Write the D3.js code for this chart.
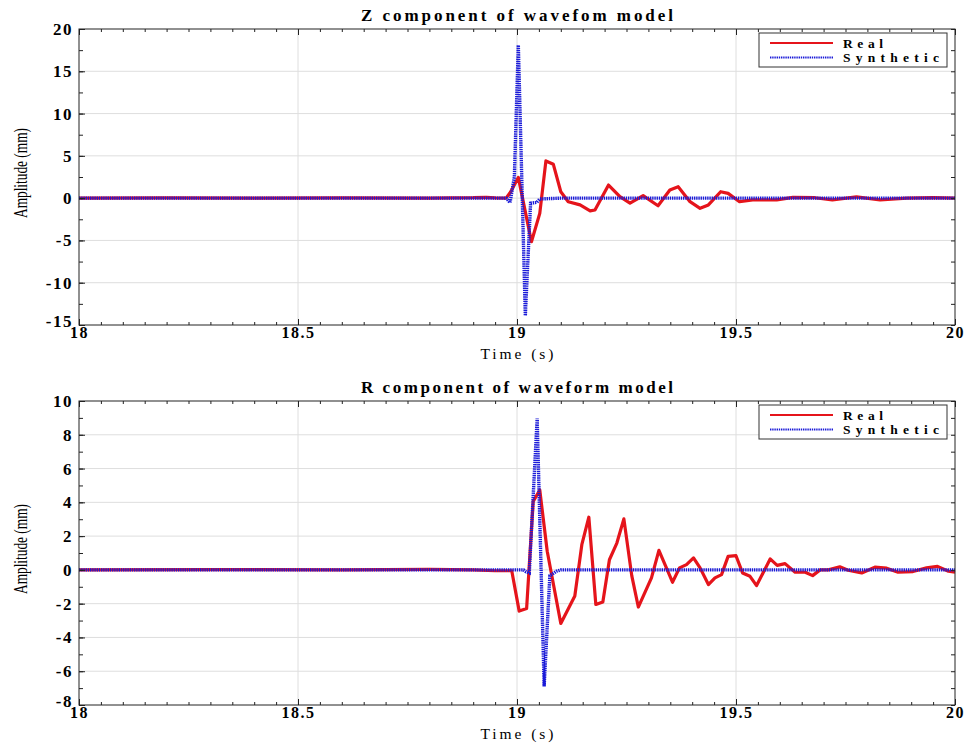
<!DOCTYPE html>
<html><head><meta charset="utf-8">
<script src="https://cdn.jsdelivr.net/npm/d3@7"></script>
<style>
body{margin:0;background:#fff;}
svg{display:block;}
svg text{font-family:"Liberation Serif","Times New Roman","DejaVu Serif",serif;}
</style></head>
<body>
<svg id="chart" width="968" height="743"></svg>
<script>
// ---------- DATA ----------
const zRealTime = [18.00,18.20,18.40,18.60,18.80,18.90,18.93,18.95,18.975,18.985,19.003,19.033,19.052,19.066,19.083,19.100,19.117,19.144,19.167,19.178,19.209,19.235,19.258,19.288,19.322,19.349,19.368,19.395,19.418,19.437,19.465,19.482,19.508,19.538,19.593,19.630,19.680,19.720,19.775,19.829,19.890,19.950,20.000];
const zRealAmp  = [0,0.02,0,0.03,0,0.05,0.1,0.03,0.0,0.7,2.45,-5.15,-1.8,4.4,4.0,0.76,-0.42,-0.8,-1.5,-1.4,1.55,0.17,-0.6,0.3,-0.9,0.96,1.35,-0.42,-1.2,-0.8,0.76,0.56,-0.42,-0.2,-0.2,0.1,0.05,-0.2,0.15,-0.2,0.0,0.05,0];
const zSynTime  = [18.00,18.970,18.976,18.984,18.994,19.003,19.019,19.031,19.045,19.052,19.100,20.000];
const zSynAmp   = [0,0,0,-0.54,2.5,18.1,-13.9,-0.6,-0.5,-0.1,0,0];

const rRealTime = [18.00,18.30,18.60,18.80,18.90,18.95,18.988,19.005,19.022,19.037,19.052,19.069,19.100,19.132,19.148,19.164,19.180,19.196,19.211,19.228,19.244,19.262,19.277,19.307,19.324,19.355,19.371,19.387,19.403,19.418,19.437,19.452,19.467,19.482,19.500,19.515,19.532,19.547,19.578,19.594,19.612,19.635,19.658,19.675,19.692,19.711,19.737,19.756,19.787,19.817,19.844,19.870,19.904,19.935,19.960,19.985,20.000];
const rRealAmp  = [0,0.02,0,0.03,0,-0.05,-0.05,-2.44,-2.28,4.05,4.73,1.1,-3.17,-1.55,1.49,3.12,-2.05,-1.9,0.6,1.59,3.02,-0.34,-2.2,-0.47,1.16,-0.73,0.12,0.31,0.71,0.12,-0.87,-0.47,-0.28,0.8,0.84,-0.18,-0.38,-0.93,0.65,0.27,0.37,-0.14,-0.14,-0.34,0,0,0.18,-0.02,-0.18,0.16,0.1,-0.14,-0.1,0.12,0.21,-0.08,-0.14];
const rSynTime  = [18.00,19.015,19.020,19.028,19.046,19.062,19.075,19.090,19.100,20.000];
const rSynAmp   = [0,0,-0.1,-0.18,8.96,-6.9,-0.34,-0.08,0,0];

const xMajorTicks = [18,18.5,19,19.5,20];
const zYTicks = [-15,-10,-5,0,5,10,15,20];
const rYTicks = [-8,-6,-4,-2,0,2,4,6,8,10];
const legendLabels = ["Real","Synthetic"];
const titles = ["Z component of wavefom model","R component of waveform model"];

// ---------- DRAW ----------
const svg = d3.select("#chart");
const SERIF = '"Liberation Serif","Times New Roman","DejaVu Serif",serif';
const RED = "#e5141b", BLUE = "#1a1ad8";

function panel(cfg){
  const {top, bottom, left, right, yDomain, yMajor, yMinorStep, realT, realA, synT, synA, title} = cfg;
  const x = d3.scaleLinear().domain([18,20]).range([left,right]);
  const y = d3.scaleLinear().domain(yDomain).range([bottom,top]);
  const g = svg.append("g");

  const xMinor = d3.range(0,41).map(i=>18+i*0.05);
  const yMinor = d3.range(Math.round((yDomain[1]-yDomain[0])/yMinorStep)+1).map(i=>yDomain[0]+i*yMinorStep);

  // grid
  g.append("g").selectAll("line").data(yMajor.filter(v=>v>yDomain[0]&&v<yDomain[1]))
    .join("line").attr("x1",left).attr("x2",right).attr("y1",d=>y(d)).attr("y2",d=>y(d))
    .attr("stroke","#dedede").attr("stroke-width",1);
  g.append("g").selectAll("line").data([18.5,19,19.5])
    .join("line").attr("y1",top).attr("y2",bottom).attr("x1",d=>x(d)).attr("x2",d=>x(d))
    .attr("stroke","#dedede").attr("stroke-width",1);

  // lines
  const line = d3.line().x(d=>x(d[0])).y(d=>y(d[1]));
  g.append("path").datum(realT.map((t,i)=>[t,realA[i]]))
    .attr("d",line).attr("fill","none").attr("stroke",RED).attr("stroke-width",3.2)
    .attr("stroke-linejoin","round");
  g.append("path").datum(synT.map((t,i)=>[t,synA[i]]))
    .attr("d",line).attr("fill","none").attr("stroke",BLUE).attr("stroke-width",3.4)
    .attr("stroke-dasharray","1.4,0.8");

  // axes (inward ticks)
  const axStyle = s => s.call(a=>a.select(".domain").remove())
      .call(a=>a.selectAll("line").attr("stroke","#222"));
  g.append("g").attr("transform",`translate(0,${bottom})`)
    .call(d3.axisBottom(x).tickValues(xMinor).tickSize(-3).tickFormat("")).call(axStyle);
  g.append("g").attr("transform",`translate(0,${top})`)
    .call(d3.axisTop(x).tickValues(xMinor).tickSize(-3).tickFormat("")).call(axStyle);
  const xb = g.append("g").attr("transform",`translate(0,${bottom})`)
    .call(d3.axisBottom(x).tickValues(xMajorTicks).tickSize(-6).tickPadding(2).tickFormat(d=>String(d))).call(axStyle);
  g.append("g").attr("transform",`translate(0,${top})`)
    .call(d3.axisTop(x).tickValues(xMajorTicks).tickSize(-6).tickFormat("")).call(axStyle);
  g.append("g").attr("transform",`translate(${left},0)`)
    .call(d3.axisLeft(y).tickValues(yMinor).tickSize(-4).tickFormat("")).call(axStyle);
  g.append("g").attr("transform",`translate(${right},0)`)
    .call(d3.axisRight(y).tickValues(yMinor).tickSize(-4).tickFormat("")).call(axStyle);
  const yl = g.append("g").attr("transform",`translate(${left},0)`)
    .call(d3.axisLeft(y).tickValues(yMajor).tickSize(-6).tickPadding(6).tickFormat(d=>String(d))).call(axStyle);
  [xb,yl].forEach(a=>{
    a.attr("font-family",null);
    a.selectAll("text").style("font-family",SERIF).attr("font-weight","bold")
      .attr("fill","#000").attr("letter-spacing","1.5px");
  });
  yl.selectAll("text").attr("font-size",17);
  xb.selectAll("text").attr("font-size",16);
  // lift the lowest y label a little so it clears the first x label
  yl.selectAll(".tick").filter(d=>d===yDomain[0]).select("text").attr("dy","0.1em");

  // frame
  g.append("rect").attr("x",left).attr("y",top).attr("width",right-left).attr("height",bottom-top)
    .attr("fill","none").attr("stroke","#222").attr("stroke-width",1);

  // title
  g.append("text").attr("x",(left+right)/2).attr("y",top-8).attr("text-anchor","middle")
    .style("font-family",SERIF).attr("font-weight","bold").attr("font-size",17)
    .attr("textLength",312).attr("lengthAdjust","spacing").text(title);
  // x label
  g.append("text").attr("x",x(19)).attr("y",bottom+34).attr("text-anchor","middle")
    .style("font-family",SERIF).attr("font-size",15.5)
    .attr("textLength",73).attr("lengthAdjust","spacing").text("Time (s)");
  // y label
  g.append("text").attr("transform",`translate(27,${(top+bottom)/2-4}) rotate(-90)`)
    .attr("text-anchor","middle").style("font-family",SERIF).attr("font-size",18)
    .attr("textLength",90).attr("lengthAdjust","spacingAndGlyphs").text("Amplitude (mm)");

  // legend
  const lx = 759, ly = top+4, lw = 188, lh = 34;
  const lg = g.append("g");
  lg.append("rect").attr("x",lx).attr("y",ly).attr("width",lw).attr("height",lh)
    .attr("fill","#fff").attr("stroke","#333").attr("stroke-width",1);
  const items = [{c:RED,dash:null,w:2.2},{c:BLUE,dash:"1.4,0.8",w:2}];
  legendLabels.forEach((lab,i)=>{
    const yy = ly + 10 + i*14.5;
    lg.append("line").attr("x1",lx+11).attr("x2",lx+74).attr("y1",yy).attr("y2",yy)
      .attr("stroke",items[i].c).attr("stroke-width",items[i].w)
      .attr("stroke-dasharray",items[i].dash);
    lg.append("text").attr("x",lx+84).attr("y",yy+4.5).style("font-family",SERIF)
      .attr("font-weight","bold").attr("font-size",13.5)
      .attr("textLength",i===0?40:96).attr("lengthAdjust","spacing").text(lab);
  });
}

panel({top:29,bottom:325,left:79,right:955,yDomain:[-15,20],yMajor:zYTicks,yMinorStep:2.5,
  realT:zRealTime,realA:zRealAmp,synT:zSynTime,synA:zSynAmp,title:titles[0]});
panel({top:401,bottom:705,left:79,right:955,yDomain:[-8,10],yMajor:rYTicks,yMinorStep:1,
  realT:rRealTime,realA:rRealAmp,synT:rSynTime,synA:rSynAmp,title:titles[1]});
</script>
</body></html>
